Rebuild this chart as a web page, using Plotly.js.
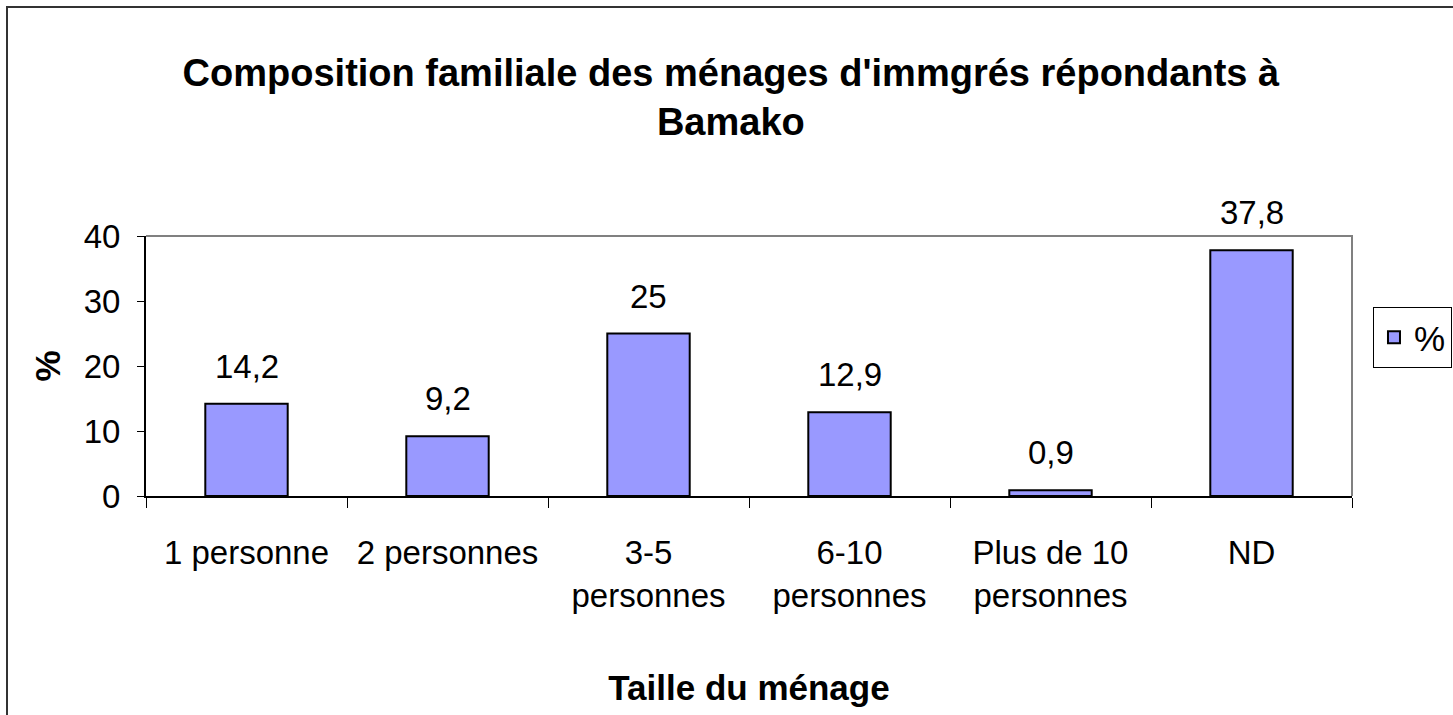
<!DOCTYPE html>
<html>
<head>
<meta charset="utf-8">
<script src="https://cdn.plot.ly/plotly-3.0.1.min.js"></script>
<style>
  body { margin: 0; background: #fff; }
  #chart { width: 1453px; height: 715px; }
  #frame {
    position: absolute; left: 6px; top: 6px; right: -10px; bottom: -10px;
    border-left: 2px solid #333; border-top: 2px solid #333;
    pointer-events: none;
  }
</style>
</head>
<body>
<div id="chart"></div>
<div id="frame"></div>
<script>
// household size categories (tick labels) and share in %
const categories = ['1 personne', '2 personnes', '3-5 personnes', '6-10 personnes', 'Plus de 10 personnes', 'ND'];
const tickLabels = ['1 personne', '2 personnes', '3-5<br>personnes', '6-10<br>personnes', 'Plus de 10<br>personnes', 'ND'];
const values = [14.2, 9.2, 25, 12.9, 0.9, 37.8];

const font = 'Liberation Sans, Arial, sans-serif';

const trace = {
  x: categories,
  y: values,
  type: 'bar',
  name: '%',
  width: 0.41,
  marker: { color: '#9999ff', line: { color: '#000', width: 2 } },
  hoverinfo: 'x+y'
};

// value labels above bars, decimal comma
const labels = categories.map((c, i) => ({
  x: c,
  y: values[i],
  text: String(values[i]).replace('.', ','),
  showarrow: false,
  yanchor: 'bottom',
  yshift: 17,
  font: { family: font, size: 33, color: '#000' }
}));

const layout = {
  width: 1453,
  height: 715,
  margin: { l: 146, r: 101, t: 236, b: 219, autoexpand: false },
  paper_bgcolor: '#fff',
  plot_bgcolor: '#fff',
  font: { family: font, size: 33, color: '#000' },
  title: {
    text: "Composition familiale des ménages d'immgrés répondants à<br>Bamako",
    font: { family: font, size: 38, color: '#000', weight: 'bold' },
    x: 0.503, xref: 'container', xanchor: 'center',
    y: 0.88, yref: 'container', yanchor: 'bottom'
  },
  xaxis: {
    type: 'category',
    tickvals: categories,
    ticktext: tickLabels,
    tickson: 'boundaries',
    ticks: 'outside',
    ticklen: 10,
    tickcolor: '#000',
    ticklabelstandoff: 26,
    showline: true,
    linecolor: '#000',
    linewidth: 2,
    showgrid: false,
    zeroline: false,
    title: {
      text: 'Taille du ménage',
      font: { family: font, size: 35, weight: 'bold' },
      standoff: 63
    },
    automargin: false
  },
  yaxis: {
    range: [0, 40],
    dtick: 10,
    ticks: 'outside',
    ticklen: 7,
    tickcolor: '#000',
    ticklabelstandoff: 10,
    showline: true,
    linecolor: '#000',
    linewidth: 2,
    showgrid: false,
    zeroline: false,
    title: {
      text: '%',
      font: { family: font, size: 35, weight: 'bold' },
      standoff: 12
    },
    automargin: false
  },
  shapes: [{
    type: 'path',
    xref: 'paper', yref: 'paper',
    path: 'M 0,1 L 1,1 L 1,0',
    line: { color: '#808080', width: 2 }
  }],
  annotations: labels,
  showlegend: true,
  legend: {
    x: 1.0174, xanchor: 'left',
    y: 0.727, yanchor: 'top',
    bordercolor: '#000',
    borderwidth: 1,
    bgcolor: '#fff',
    font: { family: font, size: 35 }
  }
};

Plotly.newPlot('chart', [trace], layout, { displayModeBar: false, staticPlot: true });
</script>
</body>
</html>
